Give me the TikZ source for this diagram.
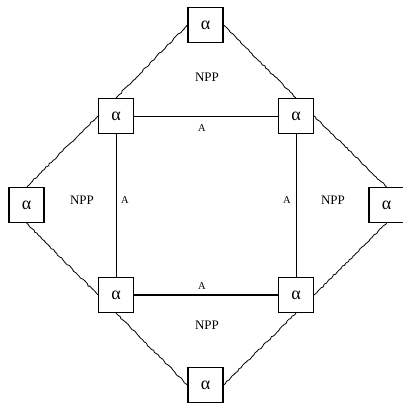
\documentclass[tikz,border=0pt]{standalone}
\usepackage{fontspec}
\setmainfont{Liberation Serif}
\usetikzlibrary{decorations.pathmorphing}
\begin{document}
\begin{tikzpicture}[x=1pt,y=-1pt,
  box/.style={draw,line width=1.1pt,minimum size=35pt,inner sep=0pt,font=\fontsize{18}{18}\selectfont,fill=white},
  wavy/.style={draw,line width=0.8pt,decorate,decoration={random steps,segment length=2.5pt,amplitude=0.7pt}},
  straight/.style={draw,line width=0.8pt},
  lbl/.style={font=\fontsize{13}{13}\selectfont,inner sep=1pt},
  albl/.style={font=\fontsize{10.5}{10.5}\selectfont,inner sep=1pt}]
\useasboundingbox (0,0) rectangle (402,404);
\node[box] (t) at (205.5,25) {α};
\node[box] (ul) at (116,116) {α};
\node[box] (ur) at (296,116) {α};
\node[box] (l) at (26.5,205) {α};
\node[box] (r) at (386.5,205) {α};
\node[box] (bl) at (116,295) {α};
\node[box] (br) at (296,295) {α};
\node[box] (b) at (205.5,385) {α};
\draw[straight] (ul.east) -- (ur.west);
\draw[straight,line width=1.1pt] (bl.east) -- (br.west);
\draw[straight] (ul.south) -- (bl.north);
\draw[straight,line width=1pt] (ur.south) -- (br.north);
\draw[wavy] (t.west) -- (ul.north);
\draw[wavy] (t.east) -- (ur.north);
\draw[wavy] (ul.west) -- (l.north);
\draw[wavy] (l.south) -- (bl.west);
\draw[wavy] (bl.south) -- (b.west);
\draw[wavy] (b.east) -- (br.south);
\draw[wavy] (br.east) -- (r.south);
\draw[wavy] (r.north) -- (ur.east);
\node[albl] (a1) at (202,128) {A};
\node[albl] (a2) at (202,286) {A};
\node[albl] (a3) at (125,200) {A};
\node[albl] (a4) at (287,200) {A};
\node[lbl] (n1) at (207,77) {NPP};
\node[lbl] (n2) at (82,200) {NPP};
\node[lbl] (n3) at (333,200) {NPP};
\node[lbl] (n4) at (207,325) {NPP};
\end{tikzpicture}
\end{document}
